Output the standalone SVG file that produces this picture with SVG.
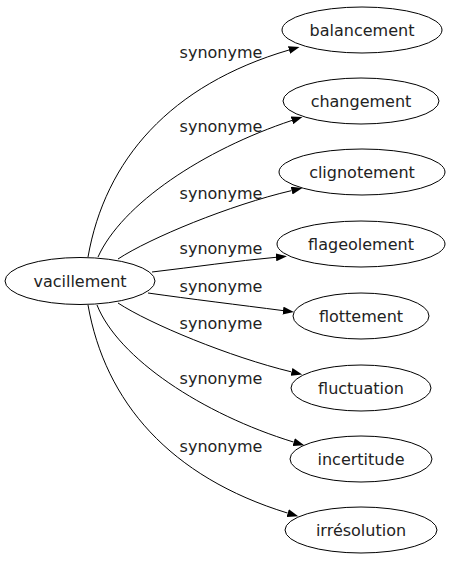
<svg xmlns="http://www.w3.org/2000/svg" width="449" height="563" viewBox="0 0 449 563">
<style>
.node ellipse{fill:#fff;stroke:#000;stroke-width:1}
.node text{font-family:"DejaVu Sans",sans-serif;font-size:16px;fill:#222;text-anchor:middle}
.edge path{fill:none;stroke:#000;stroke-width:1;marker-end:url(#arrow)}
.edge text{font-family:"DejaVu Sans",sans-serif;font-size:16px;fill:#222;text-anchor:middle}
</style>
<defs>
<marker id="arrow" markerUnits="userSpaceOnUse" markerWidth="11" markerHeight="8" viewBox="0 0 11 8" refX="0" refY="4" orient="auto">
<path d="M0,0 L11,4 L0,8 z" fill="#000"/>
</marker>
</defs>
<rect width="449" height="563" fill="#fff"/>
<g id="edges">
<g class="edge"><path d="M88,257 C105,160 170,85 289,50"/><text x="221" y="58">synonyme</text></g>
<g class="edge"><path d="M98,257 C122,204 203,150 292,120.4"/><text x="221" y="132">synonyme</text></g>
<g class="edge"><path d="M118,259 C150,238 230,205 291.6,190.6"/><text x="221" y="199">synonyme</text></g>
<g class="edge"><path d="M152,272 C195,267 235,261 276,257.3"/><text x="221" y="254">synonyme</text></g>
<g class="edge"><path d="M148,293 C190,299 240,305 283,310.6"/><text x="221" y="292">synonyme</text></g>
<g class="edge"><path d="M118,303 C150,324 230,357 291.5,371.9"/><text x="221" y="329">synonyme</text></g>
<g class="edge"><path d="M97,305 C118,358 202,414 293.7,442.1"/><text x="221" y="384">synonyme</text></g>
<g class="edge"><path d="M88,305 C105,402 170,477 287.7,513.1"/><text x="221" y="452">synonyme</text></g>
</g>
<g id="vacillement" class="node"><ellipse cx="80" cy="281" rx="75" ry="23.5"/><text x="80" y="287">vacillement</text></g>
<g id="balancement" class="node"><ellipse cx="362" cy="30" rx="80" ry="23"/><text x="362" y="36">balancement</text></g>
<g id="changement" class="node"><ellipse cx="361" cy="101" rx="78" ry="23"/><text x="361" y="107">changement</text></g>
<g id="clignotement" class="node"><ellipse cx="362" cy="172" rx="83" ry="23"/><text x="362" y="178">clignotement</text></g>
<g id="flageolement" class="node"><ellipse cx="361" cy="244" rx="84" ry="23"/><text x="361" y="250">flageolement</text></g>
<g id="flottement" class="node"><ellipse cx="361" cy="316" rx="68" ry="23"/><text x="361" y="322">flottement</text></g>
<g id="fluctuation" class="node"><ellipse cx="361" cy="388" rx="70" ry="23"/><text x="361" y="394">fluctuation</text></g>
<g id="incertitude" class="node"><ellipse cx="361" cy="459" rx="71" ry="23"/><text x="361" y="465">incertitude</text></g>
<g id="irresolution" class="node"><ellipse cx="361" cy="530" rx="76" ry="23"/><text x="361" y="536">irrésolution</text></g>
</svg>
